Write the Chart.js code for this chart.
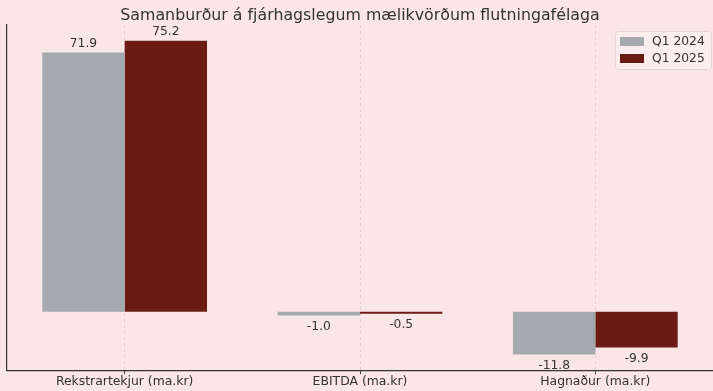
<!DOCTYPE html>
<html>
<head>
<meta charset="utf-8">
<script src="https://cdn.jsdelivr.net/npm/chart.js@4"></script>
<style>
  html, body { margin: 0; padding: 0; background: #fae6e6; }
  #wrap { width: 713px; height: 391px; }
</style>
</head>
<body>
<div id="wrap"><canvas id="chart" width="713" height="391"></canvas></div>
<script>
// Gögn lesin af myndinni
const flokkar = ['Rekstrartekjur (ma.kr)', 'EBITDA (ma.kr)', 'Hagnaður (ma.kr)'];
const q1_2024 = [71.9, -1.0, -11.8];
const q1_2025 = [75.2, -0.5, -9.9];
const rodir = ['Q1 2024', 'Q1 2025'];
const litir = ['#a4a9ad', '#6a1c14'];

const FONT = "'DejaVu Sans', sans-serif";

// Gildi ofan/neðan við súlurnar
const gildiPlugin = {
  id: 'gildi',
  afterDatasetsDraw(chart) {
    const ctx = chart.ctx;
    ctx.save();
    ctx.font = '12.3px ' + FONT;
    ctx.fillStyle = '#333333';
    ctx.textAlign = 'center';
    chart.data.datasets.forEach((ds, i) => {
      chart.getDatasetMeta(i).data.forEach((bar, j) => {
        const v = ds.data[j];
        if (v >= 0) {
          ctx.textBaseline = 'bottom';
          ctx.fillText(v.toFixed(1), bar.x, bar.y - 3);
        } else {
          ctx.textBaseline = 'top';
          ctx.fillText(v.toFixed(1), bar.x, bar.y + 5);
        }
      });
    });
    ctx.restore();
  }
};

// Skýringar inni í teiknisvæðinu, efst til hægri
const skyringPlugin = {
  id: 'skyring',
  afterDraw(chart) {
    const ctx = chart.ctx;
    const x0 = 615, y0 = 31, w = 96, h = 38;
    ctx.save();
    ctx.fillStyle = 'rgba(252,240,240,0.8)';
    ctx.strokeStyle = '#e2d6d6';
    ctx.lineWidth = 1;
    ctx.beginPath();
    ctx.roundRect(x0 + 0.5, y0 + 0.5, w, h, 3);
    ctx.fill();
    ctx.stroke();
    ctx.font = '12.3px ' + FONT;
    ctx.textBaseline = 'middle';
    ctx.textAlign = 'left';
    rodir.forEach((r, i) => {
      const y = y0 + 10 + i * 17;
      ctx.fillStyle = litir[i];
      ctx.fillRect(x0 + 5, y - 4, 24, 9);
      ctx.fillStyle = '#333333';
      ctx.fillText(r, x0 + 37, y + 0.5);
    });
    ctx.restore();
  }
};

new Chart(document.getElementById('chart'), {
  type: 'bar',
  data: {
    labels: flokkar,
    datasets: [
      { label: rodir[0], data: q1_2024, backgroundColor: litir[0] },
      { label: rodir[1], data: q1_2025, backgroundColor: litir[1] }
    ]
  },
  options: {
    responsive: false,
    animation: false,
    layout: { padding: { left: 7, right: 0, top: 0, bottom: 2 } },
    datasets: { bar: { barPercentage: 1.0, categoryPercentage: 0.7 } },
    plugins: {
      legend: { display: false },
      tooltip: { enabled: false },
      title: {
        display: true,
        text: 'Samanburður á fjárhagslegum mælikvörðum flutningafélaga',
        color: '#333333',
        font: { family: FONT, size: 15.8, weight: 'normal' },
        padding: { top: 6, bottom: 0 }
      }
    },
    scales: {
      x: {
        offset: true,
        grid: {
          display: true,
          offset: false,
          color: '#d8cccc',
          lineWidth: 0.8,
          tickLength: 4,
          tickColor: '#333333',
          tickWidth: 1
        },
        border: { display: true, color: '#333333', width: 1.2, dash: [3, 3] },
        ticks: {
          color: '#333333',
          padding: 0,
          font: { family: FONT, size: 12.4 },
          maxRotation: 0
        }
      },
      y: {
        min: -16.15,
        max: 79.55,
        grid: { display: false, drawTicks: false },
        border: { display: true, color: '#333333', width: 1.2 },
        ticks: { display: false }
      }
    }
  },
  plugins: [gildiPlugin, skyringPlugin]
});
</script>
</body>
</html>
